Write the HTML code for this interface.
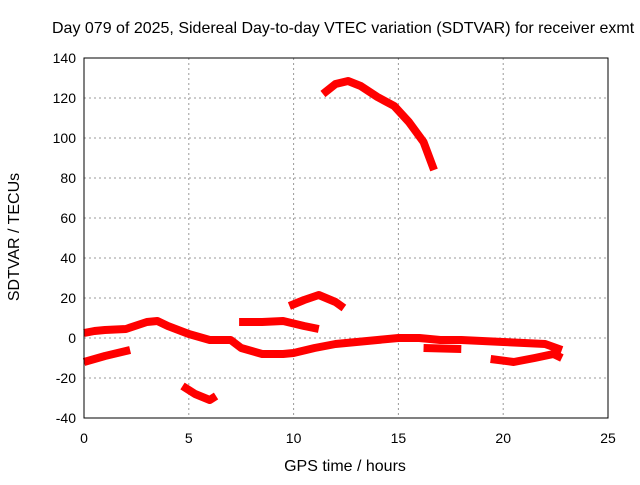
<!DOCTYPE html>
<html><head><meta charset="utf-8"><style>
body{margin:0;background:#fff;}
svg text{font-family:"Liberation Sans",sans-serif;font-size:14px;fill:#000;}
svg text.big{font-size:16px;}
</style></head><body>
<svg width="640" height="480">
<g id="grid"></g>
<g id="series"></g>
<rect x="84" y="58" width="524" height="360" fill="none" stroke="#000" stroke-width="1"/>
<g id="ticks"></g>
<text class="big" x="52" y="33">Day 079 of 2025, Sidereal Day-to-day VTEC variation (SDTVAR) for receiver exmt</text>
<text class="big" x="345" y="471" text-anchor="middle">GPS time / hours</text>
<text class="big" x="19" y="237" text-anchor="middle" transform="rotate(-90 19 237)">SDTVAR / TECUs</text>
</svg>
<script>
const xTicks=[0,5,10,15,20,25];
const yTicks=[-40,-20,0,20,40,60,80,100,120,140];
const segLow=[[0,2.5],[0.5,3.5],[1,4],[2,4.5],[3,8],[3.5,8.5],[4,6],[5,2],[6,-1],[7,-1],[7.5,-5],[8.5,-8],[9.5,-8],[10,-7.5],[11,-5],[12,-3],[13,-2],[14,-1],[15,0],[16,0],[17,-1],[18,-1],[19,-1.5],[20,-2],[21,-2.5],[22,-3],[22.8,-6]];
const segB=[[0,-12],[1,-9],[2,-6.5],[2.2,-6]];
const segC=[[4.7,-24],[5.3,-28],[6,-31],[6.3,-29]];
const segD=[[7.4,8],[8.5,8],[9.5,8.5],[10.5,6],[11.2,4.5]];
const segE=[[9.8,16],[10.5,19],[11.2,21.5],[12,18],[12.4,15]];
const segF=[[16.2,-5],[18,-5.5]];
const segG=[[19.4,-10.5],[20.5,-12],[21.5,-10],[22.4,-8],[22.8,-10]];
const segH=[[11.4,122],[12,127],[12.6,128.5],[13.2,126],[14,120.5],[14.8,116],[15.5,108],[16.2,98],[16.7,84]];
const segments=[segLow,segB,segC,segD,segE,segF,segG,segH];
const X=h=>84+h*524/25, Y=v=>418-(v+40)*2;
const NS="http://www.w3.org/2000/svg";
const grid=document.getElementById('grid'),ticks=document.getElementById('ticks'),ser=document.getElementById('series');
function mk(tag,attrs,parent){const e=document.createElementNS(NS,tag);for(const k in attrs)e.setAttribute(k,attrs[k]);parent.appendChild(e);return e;}
xTicks.forEach(t=>{const x=X(t);
 if(t>0&&t<25){const l=mk('line',{x1:x,x2:x,y1:58,y2:418,stroke:'#999','stroke-dasharray':'2,3'},grid);
 }
 const tx=mk('text',{x:x,y:443,'text-anchor':'middle'},ticks);tx.textContent=t;
 });
yTicks.forEach(t=>{const y=Y(t);
 if(t>-40&&t<140){const l=mk('line',{x1:84,x2:608,y1:y,y2:y,stroke:'#999','stroke-dasharray':'2,3'},grid);
 }
 const tx=mk('text',{x:76,y:y+5,'text-anchor':'end'},ticks);tx.textContent=t;
 });
segments.forEach(s=>{const p=mk('polyline',{points:s.map(d=>X(d[0])+','+Y(d[1])).join(' '),fill:'none',stroke:'#f00','stroke-width':8,'stroke-linejoin':'round'},ser);
 });
</script>
</body></html>
